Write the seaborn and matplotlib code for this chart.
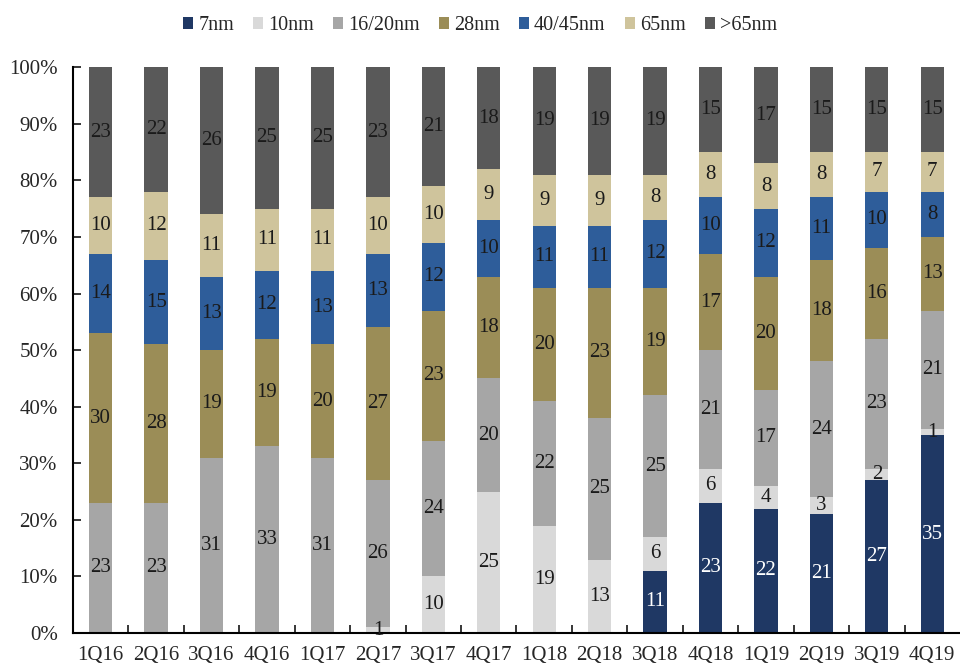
import numpy as np
import pandas as pd
import matplotlib
matplotlib.use("Agg")
import matplotlib.pyplot as plt
from matplotlib.patches import Patch
import seaborn as sns

quarters = ["1Q16", "2Q16", "3Q16", "4Q16", "1Q17", "2Q17", "3Q17", "4Q17",
            "1Q18", "2Q18", "3Q18", "4Q18", "1Q19", "2Q19", "3Q19", "4Q19"]
nodes = ["7nm", "10nm", "16/20nm", "28nm", "40/45nm", "65nm", ">65nm"]
v_7 = [0, 0, 0, 0, 0, 0, 0, 0, 0, 0, 11, 23, 22, 21, 27, 35]
v_10 = [0, 0, 0, 0, 0, 1, 10, 25, 19, 13, 6, 6, 4, 3, 2, 1]
v_16 = [23, 23, 31, 33, 31, 26, 24, 20, 22, 25, 25, 21, 17, 24, 23, 21]
v_28 = [30, 28, 19, 19, 20, 27, 23, 18, 20, 23, 19, 17, 20, 18, 16, 13]
v_40 = [14, 15, 13, 12, 13, 13, 12, 10, 11, 11, 12, 10, 12, 11, 10, 8]
v_65 = [10, 12, 11, 11, 11, 10, 10, 9, 9, 9, 8, 8, 8, 8, 7, 7]
v_gt65 = [23, 22, 26, 25, 25, 23, 21, 18, 19, 19, 19, 15, 17, 15, 15, 15]
series = [v_7, v_10, v_16, v_28, v_40, v_65, v_gt65]
colors = ["#1f3864", "#d9d9d9", "#a6a6a6", "#9b8d57", "#2e5d9a", "#cfc49c", "#595959"]
text_colors = ["white", "#1a1a1a", "#1a1a1a", "#1a1a1a", "#1a1a1a", "#1a1a1a", "#1a1a1a"]

sns.set_style("ticks")
plt.rcParams["font.family"] = ["Liberation Serif", "DejaVu Serif"]

vals = np.array(series, dtype=float)
pct = vals / vals.sum(axis=0) * 100
cum = np.cumsum(pct, axis=0)

fig = plt.figure(figsize=(9.6, 6.65), dpi=100)
ax = fig.add_axes([0.076, 0.048, 0.924, 0.851])

# draw cumulative totals from the top layer down so they overlap into stacks
for i in range(len(nodes) - 1, -1, -1):
    df = pd.DataFrame({"quarter": quarters, "value": cum[i]})
    sns.barplot(data=df, x="quarter", y="value", order=quarters, color=colors[i],
                width=0.42, saturation=1, ax=ax, linewidth=0)

for i in range(len(nodes)):
    for j in range(len(quarters)):
        if series[i][j] > 0:
            y = cum[i][j] - pct[i][j] / 2
            ax.text(j, y, str(series[i][j]), ha="center", va="center",
                    fontsize=15, color=text_colors[i])

ax.set_xlim(-0.5, 15.5)
ax.set_ylim(0, 100)
ax.set_yticks(np.arange(0, 101, 10))
ax.set_yticklabels([f"{t}%" for t in range(0, 101, 10)], fontsize=15)
ax.set_xlabel("")
ax.set_ylabel("")
ax.set_xticks(range(len(quarters)))
ax.set_xticklabels(quarters, fontsize=15)
ax.set_xticks(np.arange(0.5, 15.5, 1), minor=True)
ax.tick_params(axis="x", which="major", length=0, pad=9)
ax.tick_params(axis="x", which="minor", direction="in", length=6, width=1.3)
ax.tick_params(axis="y", direction="in", length=6, width=1.3, pad=11)
for s in ["top", "right"]:
    ax.spines[s].set_visible(False)
for s in ["left", "bottom"]:
    ax.spines[s].set_linewidth(1.5)
    ax.spines[s].set_color("black")

handles = [Patch(facecolor=c, edgecolor="none", label=n) for c, n in zip(colors, nodes)]
fig.legend(handles=handles, loc="upper center", bbox_to_anchor=(0.5, 1.003), ncol=7,
           frameon=False, fontsize=14.5, handlelength=0.5, handleheight=0.5,
           handletextpad=0.25, columnspacing=0.95)

fig.savefig("out.png", dpi=100)
